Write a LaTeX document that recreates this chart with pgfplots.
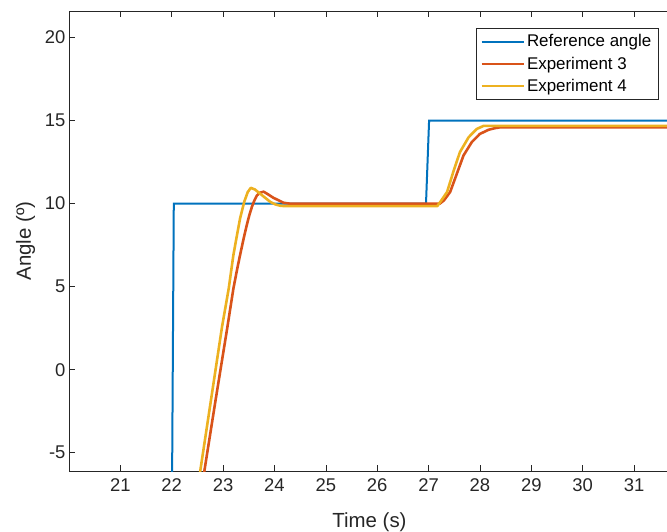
\documentclass[border=0pt]{standalone}
\usepackage{pgfplots}
\pgfplotsset{compat=1.18}
\usepackage{fontspec}
\setmainfont{Liberation Sans}
\usetikzlibrary{calc}

\definecolor{mblue}{HTML}{0072BD}
\definecolor{mred}{HTML}{D95319}
\definecolor{myellow}{HTML}{EDB120}
\definecolor{axgray}{HTML}{262626}

\begin{document}
\begin{tikzpicture}[x=1bp,y=1bp]
\begin{axis}[
  name=ax,
  scale only axis,
  width=601bp, height=460bp,
  xmin=20, xmax=31.7,
  ymin=-6.1, ymax=21.6,
  xtick={21,22,...,31},
  ytick={-5,0,5,10,15,20},
  axis y line*=left,
  tick align=inside,
  major tick length=6bp,
  every tick/.style={axgray, line width=0.6bp},
  axis line style={axgray, line width=0.6bp},
  /pgf/number format/assume math mode=true,
  tick label style={font=\fontsize{18.5}{20}\selectfont, text=axgray},
  xticklabel style={yshift=-4bp},
  xlabel={Time (s)},
  ylabel={Angle (º)},
  label style={font=\fontsize{20.5}{22}\selectfont, text=axgray},
  xlabel style={at={(axis description cs:0.5,0)}, anchor=base, yshift=-56bp},
  ylabel style={yshift=3bp},
  legend style={
    at={(0.98,0.963)}, anchor=north east,
    draw=axgray, fill=white,
    font=\fontsize{17}{20}\selectfont,
    inner xsep=4.5bp, inner ysep=4.5bp,
    row sep=4.5bp,
    cells={anchor=west},
  },
  legend image code/.code={\draw[#1] (0bp,0bp) -- (42bp,0bp);},
  clip=true,
]
% reference set-point
\addplot[draw=mblue, line width=2bp] coordinates {
  (19.5,-10) (22.00,-10) (22.04,10) (26.95,10) (27.01,15) (32,15)
};
\addlegendentry{Reference angle}

% experiment 3
\addplot[draw=mred, line width=2.6bp, line join=round,
         legend image post style={line width=2.6bp}] coordinates {
  (22.50,-8.7) (22.63,-6.2) (22.85,-1.9) (23.08,2.5) (23.20,4.88)
  (23.27,6.0) (23.33,6.9) (23.40,7.9) (23.46,8.7) (23.51,9.3)
  (23.56,9.8) (23.61,10.2) (23.66,10.5) (23.72,10.66) (23.79,10.72)
  (23.88,10.55) (23.98,10.35) (24.08,10.2) (24.18,10.05) (24.30,10.0)
  (27.22,10.0) (27.30,10.2) (27.42,10.7) (27.55,11.8) (27.68,12.9)
  (27.84,13.7) (28.00,14.2) (28.17,14.45) (28.30,14.55) (28.40,14.6)
  (32,14.6)
};
\addlegendentry{Experiment 3}

% experiment 4
\addplot[draw=myellow, line width=2.6bp, line join=round,
         legend image post style={line width=2.6bp}] coordinates {
  (22.42,-8.7) (22.55,-6.2) (22.78,-1.5) (22.98,2.6) (23.11,4.9)
  (23.20,6.9) (23.27,8.1) (23.33,9.1) (23.41,10.1) (23.48,10.7)
  (23.54,10.95) (23.62,10.85) (23.72,10.6) (23.82,10.35) (23.92,10.1)
  (24.02,9.95) (24.12,9.87) (24.20,9.85) (27.17,9.85) (27.25,10.2)
  (27.36,10.7) (27.48,11.9) (27.61,13.1) (27.78,14.0) (27.94,14.5)
  (28.07,14.68) (32,14.68)
};
\addlegendentry{Experiment 4}
\end{axis}
\pgfresetboundingbox
\path[use as bounding box] ($(ax.south west)+(-69bp,-61bp)$) rectangle ($(ax.north west)+(598bp,11bp)$);
\end{tikzpicture}
\end{document}
